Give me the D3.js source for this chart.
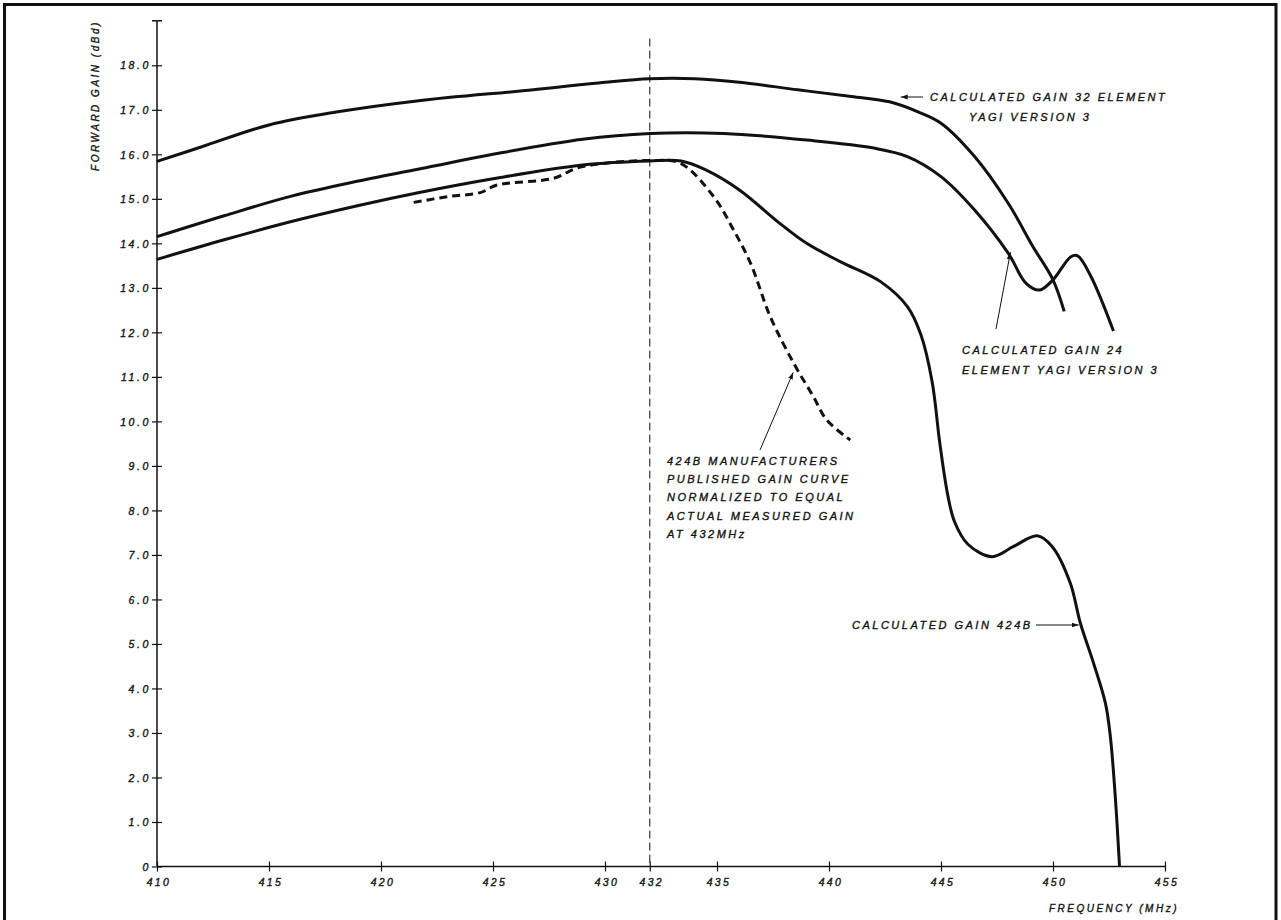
<!DOCTYPE html>
<html>
<head>
<meta charset="utf-8">
<script src="https://cdn.jsdelivr.net/npm/d3@7"></script>
<style>
  body { margin: 0; background: #fff; }
  text { font-family: "Liberation Sans", Arial, sans-serif; font-style: italic; fill: #111; stroke: #111; stroke-width: 0.35px; }
</style>
</head>
<body>
<svg id="chart" width="1281" height="920"></svg>
<script>
// Forward gain vs frequency - 424B and Yagi versions

// Data
const freq32 = [410, 412, 415, 418, 421.6, 426.8, 430, 432, 434, 436, 438.6, 441, 442.7, 444, 445, 446.5, 448, 449.1, 450, 450.5];
const gain32 = [15.84, 16.17, 16.66, 16.95, 17.2, 17.45, 17.62, 17.7, 17.7, 17.62, 17.45, 17.3, 17.18, 16.95, 16.7, 15.95, 14.9, 13.93, 13.18, 12.47];

const freq24 = [410, 413, 416, 419, 422, 425, 429, 432, 435.3, 439, 442, 443.5, 445, 446.5, 448, 448.8, 449.4, 450, 450.8, 451.1, 451.7, 452.7];
const gain24 = [14.15, 14.62, 15.06, 15.4, 15.7, 16.0, 16.34, 16.47, 16.47, 16.32, 16.14, 15.95, 15.5, 14.75, 13.78, 13.1, 12.95, 13.18, 13.7, 13.72, 13.25, 12.03];

const freqCalc = [410, 413, 416, 419, 421.6, 425, 429, 432, 433.4, 434.5, 436, 437.8, 439, 440.5, 442.3, 443.5, 444.1, 444.6, 444.95, 445.3, 445.6, 446.2, 447.28, 448.24, 449.29, 449.96, 450.77, 451.22, 451.81, 452.34, 452.56, 452.78, 452.97];
const gainCalc = [13.64, 14.08, 14.49, 14.85, 15.13, 15.45, 15.76, 15.85, 15.85, 15.65, 15.2, 14.45, 14.0, 13.59, 13.14, 12.58, 11.95, 10.9, 9.5, 8.35, 7.75, 7.24, 6.96, 7.19, 7.43, 7.19, 6.37, 5.47, 4.57, 3.67, 2.92, 1.57, 0];

const freqPub = [421.46, 423, 424.43, 425.18, 427.7, 428.75, 430, 432, 433.36, 434.85, 435.74, 436.5, 437.38, 438.42, 439.3, 439.9, 440.95];
const gainPub = [14.92, 15.05, 15.14, 15.31, 15.46, 15.69, 15.8, 15.86, 15.8, 15.05, 14.3, 13.55, 12.35, 11.31, 10.56, 10.03, 9.58];

// axis ticks
const xTicks = [410, 415, 420, 425, 430, 432, 435, 440, 445, 450, 455];
const xLabels = ['410', '415', '420', '425', '430', '432', '435', '440', '445', '450', '455'];
const yTicks = [0, 1, 2, 3, 4, 5, 6, 7, 8, 9, 10, 11, 12, 13, 14, 15, 16, 17, 18];
const yLabels = ['0', '1.0', '2.0', '3.0', '4.0', '5.0', '6.0', '7.0', '8.0', '9.0', '10.0', '11.0', '12.0', '13.0', '14.0', '15.0', '16.0', '17.0', '18.0'];

const svg = d3.select('#chart');
const ink = '#111';

const x = d3.scaleLinear().domain([410, 455]).range([157, 1165]);
const y = d3.scaleLinear().domain([0, 18]).range([866.5, 65.3]);

// frame (top, left, right)
svg.append('path')
  .attr('d', 'M4.5,920 L4.5,4.5 L1276,4.5 L1276,920')
  .attr('fill', 'none')
  .attr('stroke', ink)
  .attr('stroke-width', 3);

// y axis
const yAxis = svg.append('g')
  .attr('transform', `translate(${x(410)},0)`)
  .call(d3.axisLeft(y).tickValues(yTicks).tickFormat((d, i) => yLabels[i]).tickSize(5).tickSizeOuter(0));
yAxis.select('.domain').remove();
yAxis.selectAll('.tick line').attr('x1', -5).attr('x2', 5).attr('stroke', ink).attr('stroke-width', 1.2);
yAxis.selectAll('.tick text')
  .attr('x', -6)
  .attr('dy', '0.35em')
  .style('font-size', '10.5px')
  .style('letter-spacing', '2.6px')
  .attr('fill', ink);
svg.append('line')
  .attr('x1', x(410)).attr('x2', x(410))
  .attr('y1', y(0)).attr('y2', y(19))
  .attr('stroke', ink).attr('stroke-width', 1.5);
svg.append('line')
  .attr('x1', x(410) - 5).attr('x2', x(410) + 5)
  .attr('y1', y(19)).attr('y2', y(19))
  .attr('stroke', ink).attr('stroke-width', 1.5);

// x axis
const xAxis = svg.append('g')
  .attr('transform', `translate(0,${y(0)})`)
  .call(d3.axisBottom(x).tickValues(xTicks).tickFormat((d, i) => xLabels[i]).tickSize(5).tickSizeOuter(0));
xAxis.select('.domain').remove();
xAxis.selectAll('.tick line').attr('y1', -5).attr('y2', 5).attr('stroke', ink).attr('stroke-width', 1.2);
xAxis.selectAll('.tick text')
  .attr('y', 12)
  .attr('dy', '0.71em')
  .attr('dx', '1.4px')
  .style('font-size', '10.5px')
  .style('letter-spacing', '2.3px')
  .attr('fill', ink);
svg.append('line')
  .attr('x1', x(410)).attr('x2', x(455))
  .attr('y1', y(0)).attr('y2', y(0))
  .attr('stroke', ink).attr('stroke-width', 1.5);

// axis titles
svg.append('text')
  .attr('transform', `translate(99,${y(18.6) + 57}) rotate(-90)`)
  .attr('text-anchor', 'middle')
  .style('font-size', '10px')
  .style('letter-spacing', '2.5px')
  .text('FORWARD  GAIN (dBd)');

svg.append('text')
  .attr('x', x(455) + 14)
  .attr('y', 912)
  .attr('text-anchor', 'end')
  .style('font-size', '10px')
  .style('letter-spacing', '2.5px')
  .text('FREQUENCY (MHz)');

// 432 MHz reference line
svg.append('line')
  .attr('x1', x(432)).attr('x2', x(432))
  .attr('y1', y(18.6)).attr('y2', y(0))
  .attr('stroke', ink)
  .attr('stroke-width', 1)
  .attr('stroke-dasharray', '8,4');

// curves
const line = d3.line()
  .x(d => x(d[0]))
  .y(d => y(d[1]))
  .curve(d3.curveCatmullRom.alpha(0.5));

const series = [
  { f: freq32, g: gain32, dash: null },
  { f: freq24, g: gain24, dash: null },
  { f: freqCalc, g: gainCalc, dash: null },
  { f: freqPub, g: gainPub, dash: '8,5' }
];

svg.append('g')
  .selectAll('path')
  .data(series)
  .enter()
  .append('path')
  .attr('d', s => line(d3.zip(s.f, s.g)))
  .attr('fill', 'none')
  .attr('stroke', ink)
  .attr('stroke-width', 3)
  .attr('stroke-linejoin', 'round')
  .attr('stroke-dasharray', s => s.dash);

// arrowheads
svg.append('defs').append('marker')
  .attr('id', 'arrow')
  .attr('viewBox', '0 0 10 10')
  .attr('refX', 10).attr('refY', 5)
  .attr('markerWidth', 7).attr('markerHeight', 7)
  .attr('markerUnits', 'userSpaceOnUse')
  .attr('orient', 'auto')
  .append('path')
  .attr('d', 'M0,1.5 L10,5 L0,8.5 Z')
  .attr('fill', ink);

function leader(x1, y1, x2, y2) {
  svg.append('line')
    .attr('x1', x1).attr('y1', y1)
    .attr('x2', x2).attr('y2', y2)
    .attr('stroke', ink)
    .attr('stroke-width', 1)
    .attr('marker-end', 'url(#arrow)');
}

function note(lines, x0, y0, lh = 20, indents = null) {
  lines.forEach((t, i) => {
    svg.append('text')
      .attr('x', x0 + (indents ? indents[i] : 0))
      .attr('y', y0 + i * lh)
      .style('font-size', '11px')
      .style('letter-spacing', '2.5px')
      .text(t);
  });
}

// annotations
note(['CALCULATED GAIN 32 ELEMENT', 'YAGI VERSION 3'], 930, 101, 20, [0, 39]);
leader(923, 97, x(443.2), 97);

note(['CALCULATED GAIN 24', 'ELEMENT YAGI VERSION 3'], 962, 354, 20);
leader(996, 329, x(448.1), y(13.8));

note(['424B MANUFACTURERS', 'PUBLISHED GAIN CURVE', 'NORMALIZED TO EQUAL', 'ACTUAL MEASURED GAIN', 'AT 432MHz'], 667, 465, 18.2);
leader(760, 450, x(438.4), y(11.1));

note(['CALCULATED GAIN 424B'], 852, 629);
leader(1036, 625, x(451.15), 625);
</script>
</body>
</html>
